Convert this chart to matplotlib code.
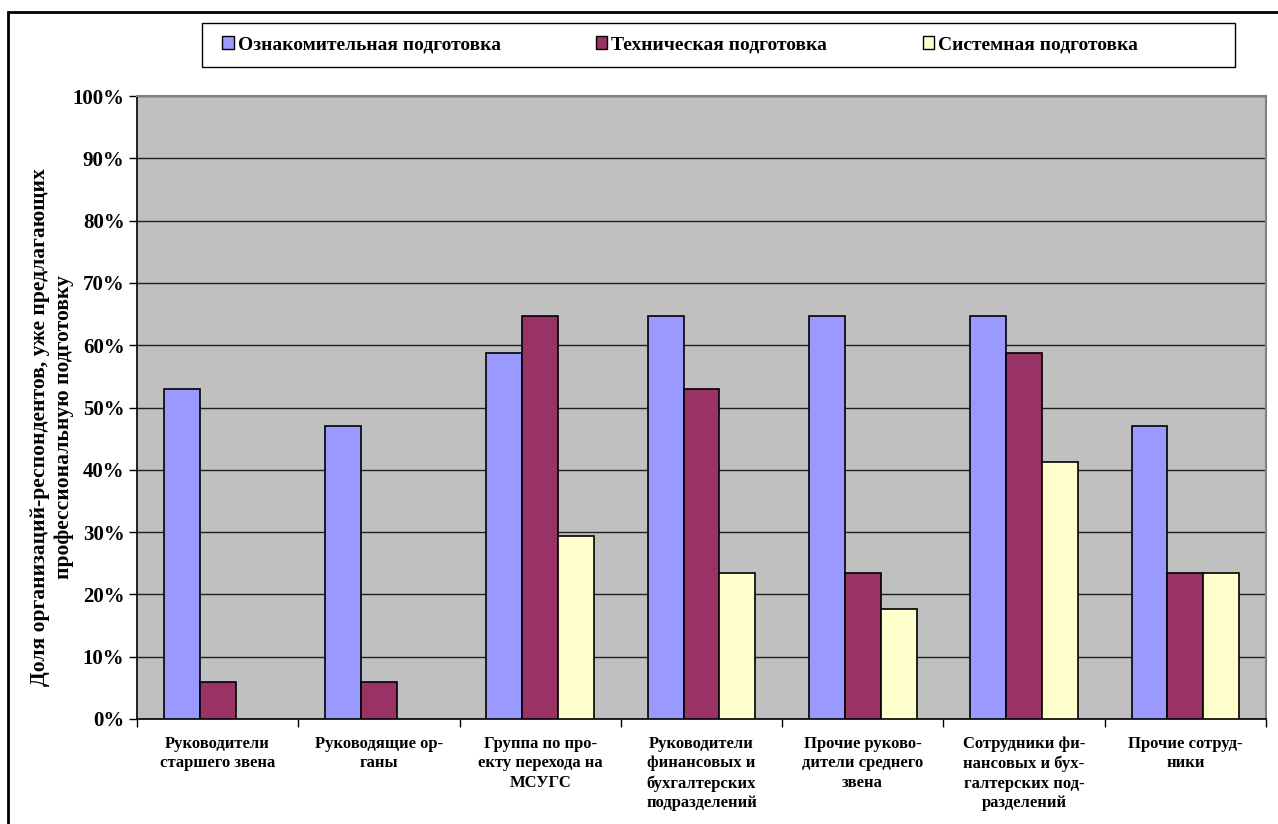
import matplotlib
matplotlib.use("Agg")
import matplotlib.pyplot as plt
from matplotlib.patches import Rectangle, Patch
import numpy as np

categories = [
    "Руководители\nстаршего звена",
    "Руководящие ор-\nганы",
    "Группа по про-\nекту перехода на\nМСУГС",
    "Руководители\nфинансовых и\nбухгалтерских\nподразделений",
    "Прочие руково-\nдители среднего\nзвена",
    "Сотрудники фи-\nнансовых и бух-\nгалтерских под-\nразделений",
    "Прочие сотруд-\nники",
]
series_names = ["Ознакомительная подготовка", "Техническая подготовка", "Системная подготовка"]
intro = [52.9, 47.1, 58.8, 64.7, 64.7, 64.7, 47.1]
technical = [5.9, 5.9, 64.7, 52.9, 23.5, 58.8, 23.5]
systemic = [0.0, 0.0, 29.4, 23.5, 17.6, 41.2, 23.5]
y_ticks = [0, 10, 20, 30, 40, 50, 60, 70, 80, 90, 100]
colors = ["#9999FF", "#993366", "#FFFFCC"]

plt.rcParams["font.family"] = ["Liberation Serif", "DejaVu Serif"]

W, H = 1278, 824
fig = plt.figure(figsize=(W / 100, H / 100), dpi=100)
ax = fig.add_axes([137 / W, 1 - 719 / H, (1266 - 137) / W, (719 - 96) / H])
ax.set_facecolor("#C0C0C0")

x = np.arange(len(categories))
bw = 0.667 / 3
for i, (vals, col, name) in enumerate(zip([intro, technical, systemic], colors, series_names)):
    bars = ax.bar(x + (i - 1) * bw, vals, width=bw, color=col, edgecolor="black",
                  linewidth=1.2, label=name, zorder=3)
    for b, v in zip(bars, vals):
        if v == 0:
            b.set_visible(False)

ax.set_xlim(-0.5, len(categories) - 0.5)
ax.set_ylim(0, 100)
ax.set_yticks(y_ticks)
ax.set_yticklabels([f"{t}%" for t in y_ticks], fontsize=15, fontweight="bold")
ax.yaxis.grid(True, color="#202020", linewidth=1.0, zorder=1)
ax.tick_params(axis="y", direction="out", length=6, width=1, pad=3)

ax.set_xticks(x)
ax.set_xticklabels(categories, fontsize=12, fontweight="bold", linespacing=1.3)
ax.tick_params(axis="x", which="major", length=0, pad=12)
ax.set_xticks(np.arange(len(categories) + 1) - 0.5, minor=True)
ax.tick_params(axis="x", which="minor", direction="out", length=6, width=1)

for side in ["top", "right"]:
    ax.spines[side].set_color("#808080")
    ax.spines[side].set_linewidth(1.5)
for side in ["left", "bottom"]:
    ax.spines[side].set_color("black")
    ax.spines[side].set_linewidth(1.2)

fig.text(52 / W, 1 - 427 / H,
         "Доля организаций-респондентов, уже предлагающих\nпрофессиональную подготовку",
         rotation=90, ha="center", va="center", fontsize=15.5, fontweight="bold",
         linespacing=1.2)

# legend entries, with a separately drawn box around them
handles = [Patch(facecolor=c, edgecolor="black", linewidth=1.0) for c in colors]
leg = fig.legend(handles=handles, labels=series_names, loc="center left",
                 bbox_to_anchor=(222 / W, 1 - 45 / H), ncol=3, frameon=False,
                 prop={"weight": "bold", "size": 14}, borderpad=0, borderaxespad=0,
                 handlelength=0.6, handleheight=0.6, handletextpad=0.2,
                 columnspacing=4.9)
fig.patches.append(Rectangle((202 / W, 1 - 67 / H), (1235 - 202) / W, 44 / H,
                             transform=fig.transFigure, fill=False,
                             edgecolor="black", linewidth=1.0, zorder=0))

# outer chart frame
fig.patches.append(Rectangle((8 / W, -0.01), 1.0, 1 - 12 / H + 0.01,
                             transform=fig.transFigure, fill=False,
                             edgecolor="black", linewidth=2))

fig.savefig("out.png", dpi=100, facecolor="white")
